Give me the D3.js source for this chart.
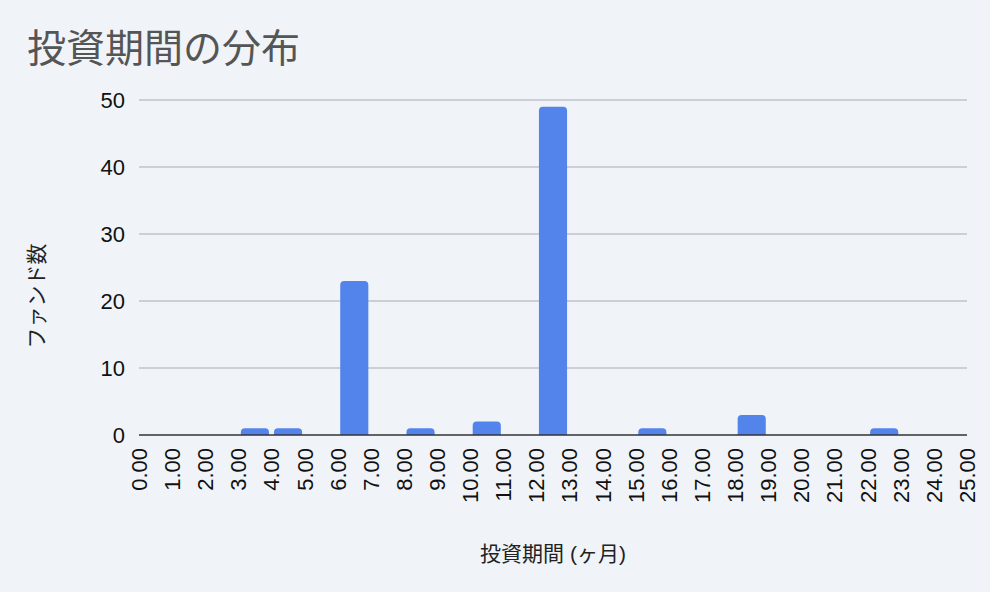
<!DOCTYPE html>
<html>
<head>
<meta charset="utf-8">
<script src="https://cdn.jsdelivr.net/npm/d3@7"></script>
<style>
  body { margin: 0; background: #f0f4f9; }
  svg { display: block; font-family: "Liberation Sans", Arial, "Noto Sans CJK JP", sans-serif; }
</style>
</head>
<body>
<div id="chart"></div>
<script>
// histogram bins (lower edge, months) and fund counts
const binStarts = [0, 1, 2, 3, 4, 5, 6, 7, 8, 9, 10, 11, 12, 13, 14, 15, 16, 17, 18, 19, 20, 21, 22, 23, 24];
const fundCounts = [0, 0, 0, 1, 1, 0, 23, 0, 1, 0, 2, 0, 49, 0, 0, 1, 0, 0, 3, 0, 0, 0, 1, 0, 0];
const xTicks = d3.range(0, 26);
const yTicks = [0, 10, 20, 30, 40, 50];

const W = 990, H = 592;
const margin = {top: 100, right: 23, bottom: 157, left: 139};
const width = W - margin.left - margin.right;
const height = H - margin.top - margin.bottom;

const cjk = "'Liberation Sans', 'Noto Sans CJK JP', sans-serif";

const svg = d3.select("#chart").append("svg")
    .attr("width", W)
    .attr("height", H);

svg.append("rect").attr("width", W).attr("height", H).attr("fill", "#f0f4f9");

// title
svg.append("text")
    .attr("x", 27)
    .attr("y", 62)
    .attr("fill", "#555")
    .style("font-size", "39px")
    .style("font-family", cjk)
    .text("投資期間の分布");

const g = svg.append("g")
    .attr("transform", `translate(${margin.left},${margin.top})`);

const x = d3.scaleLinear().domain([0, 25]).range([0, width]);
const y = d3.scaleLinear().domain([0, 50]).range([height, 0]);

// gridlines
g.selectAll(".grid")
    .data(yTicks.filter(d => d > 0))
    .join("line")
    .attr("x1", 0).attr("x2", width)
    .attr("y1", d => y(d)).attr("y2", d => y(d))
    .attr("stroke", "#c0c4c9")
    .attr("stroke-width", 1.3);

// y tick labels
g.selectAll(".ylab")
    .data(yTicks)
    .join("text")
    .attr("x", -14)
    .attr("y", d => y(d))
    .attr("dy", "0.36em")
    .attr("text-anchor", "end")
    .style("font-size", "22px")
    .attr("fill", "#111")
    .text(d => d);

// bars with rounded tops
const bars = binStarts.map((b, i) => ({start: b, count: fundCounts[i]}))
    .filter(d => d.count > 0);
const pad = 2.5;
const r = 4;
function barPath(d) {
    const x0 = x(d.start) + pad;
    const x1 = x(d.start + 1) - pad;
    const y0 = y(0);
    const y1 = y(d.count);
    const rr = Math.min(r, (y0 - y1), (x1 - x0) / 2);
    return `M${x0},${y0} L${x0},${y1 + rr} Q${x0},${y1} ${x0 + rr},${y1} L${x1 - rr},${y1} Q${x1},${y1} ${x1},${y1 + rr} L${x1},${y0} Z`;
}
g.selectAll(".bar")
    .data(bars)
    .join("path")
    .attr("d", barPath)
    .attr("fill", "#5384ec");

// baseline
g.append("line")
    .attr("x1", 0).attr("x2", width)
    .attr("y1", y(0)).attr("y2", y(0))
    .attr("stroke", "#333")
    .attr("stroke-width", 1.5);

// x tick labels rotated
g.selectAll(".xlab")
    .data(xTicks)
    .join("text")
    .attr("transform", d => `translate(${x(d)},${height + 13}) rotate(-90)`)
    .attr("dy", "0.36em")
    .attr("text-anchor", "end")
    .style("font-size", "22px")
    .attr("fill", "#111")
    .text(d => d3.format(".2f")(d));

// axis titles
svg.append("text")
    .attr("x", 553)
    .attr("y", 561)
    .attr("text-anchor", "middle")
    .style("font-size", "21px")
    .style("font-family", cjk)
    .attr("fill", "#222")
    .text("投資期間 (ヶ月)");

svg.append("text")
    .attr("transform", `translate(44,296) rotate(-90)`)
    .attr("text-anchor", "middle")
    .style("font-size", "21px")
    .style("font-family", cjk)
    .attr("fill", "#222")
    .text("ファンド数");
</script>
</body>
</html>
